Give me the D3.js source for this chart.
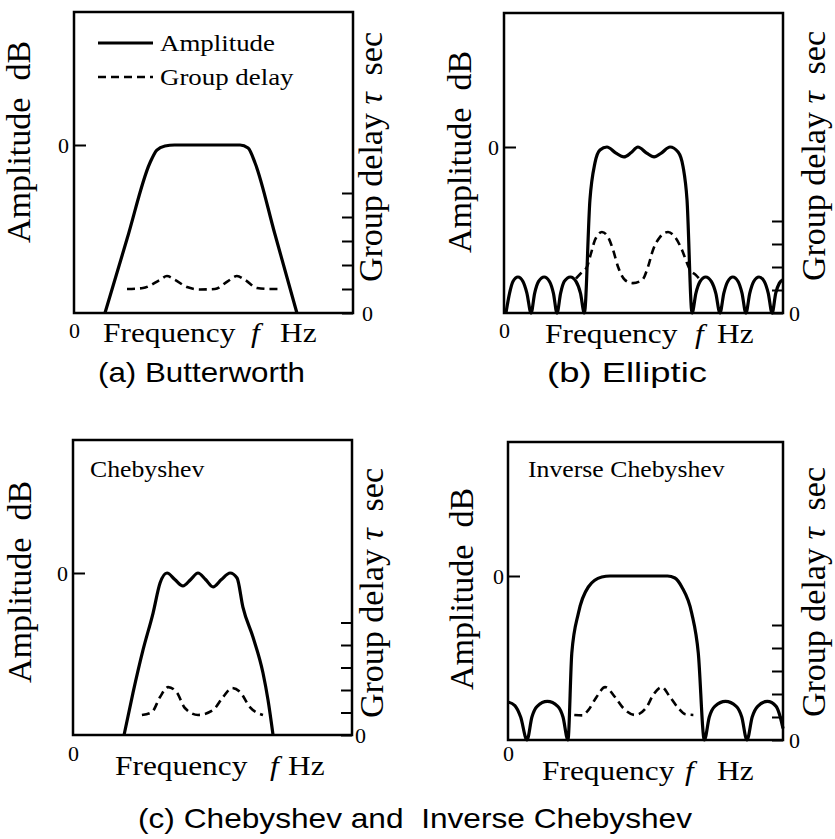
<!DOCTYPE html>
<html>
<head>
<meta charset="utf-8">
<script src="https://cdn.jsdelivr.net/npm/d3@7"></script>
<style>
  body { margin: 0; background: #fff; }
</style>
</head>
<body>
<svg id="chart" width="835" height="839"></svg>
<script>
// frequency axis in % of span, amplitude in % below 0 dB, group delay in tick units
const legendLabels = ['Amplitude', 'Group delay'];
const insetLabels = ['Chebyshev', 'Inverse Chebyshev'];
const captions = ['(a) Butterworth', '(b) Elliptic', '(c) Chebyshev and  Inverse Chebyshev'];
const ampTicks = [0];
const freqTicks = [0];

const butterAmp = [[11.1,-100],[19,-56],[27.2,-10.7],[29.7,-3],[32.6,-0.6],[36,0],[59.5,0],[62.4,-1.8],
  [64.9,-10.7],[72,-53],[79.9,-100]];
const butterDelay = [[19,1],[24.7,1.04],[30.8,1.38],[33.3,1.54],[36.2,1.38],[40.5,1.08],[45.2,0.98],
  [50.5,1],[55.2,1.33],[58.4,1.54],[61.3,1.38],[65.6,1.04],[70.3,1],[74.6,1]];

const ellipAmp = [[0.7,-100],[2,-88],[3.2,-81],[5,-78.3],[6.8,-81],[8.2,-88],[9.7,-100],
  [11,-88],[12.4,-81],[14.4,-78.3],[16.3,-81],[17.7,-88],[19,-100],
  [20.3,-88],[21.6,-81],[23.8,-78.3],[25.8,-81],[27.4,-88],[28.8,-100],
  [30.8,-31.9],[32.6,-9.6],[34.4,-1.8],[36.9,0],[40,-3.5],[43,-6],[45.5,-3.5],[48,0],[51,-3.5],
  [53.8,-6],[56.5,-3.5],[59.5,0],[62.4,-3],[64.2,-12],[65.6,-31.9],[67.4,-100],
  [68.8,-88],[70.3,-81],[72.3,-78.3],[74.3,-81],[75.9,-88],[77.4,-100],
  [78.8,-88],[80.2,-81],[82,-78.3],[83.9,-81],[85.3,-88],[86.7,-100],
  [88.1,-88],[89.5,-81],[91.4,-78.3],[93.3,-81],[94.7,-88],[96.1,-100],
  [97.4,-88],[98.7,-82],[100,-80]];
const ellipDelay = [[25.8,1.5],[28,1.78],[29.7,2],[31.2,2.6],[32.6,3.17],[35.1,3.52],[37.3,3.3],[39.1,2.74],
  [40.9,2],[43.4,1.43],[46.2,1.3],[49.5,1.43],[51.6,2],[53.4,2.74],[55.9,3.3],[58.8,3.52],[61.3,3.3],
  [63.8,2.74],[65.6,2.17],[66.7,1.87],[68.8,1.65],[70.6,1.4]];

const chebAmp = [[18.3,-100],[21.5,-74],[25.1,-47.5],[28.7,-24.7],[31.2,-6.2],[33.7,0],[36.5,-4],[39.4,-8],
  [42.2,-4],[44.8,0],[47.5,-4],[50.2,-8.6],[53.2,-4],[56.3,0],[58.8,-3.1],[60.9,-21],[64.5,-39.5],
  [68.1,-61.7],[69.9,-78.4],[71.7,-100]];
const chebDelay = [[24.7,0.89],[28.3,1.02],[31.2,1.69],[34.1,2.13],[37.3,1.87],[40.1,1.2],[44.8,0.89],
  [50.2,1.11],[53.8,1.69],[57,2.09],[59.9,1.91],[63.4,1.24],[68.1,0.89]];

const invAmp = [[0,-76.8],[2.5,-79],[4.6,-86],[6.9,-100],[8.7,-86],[10.6,-79.5],[14.3,-76.5],[18.1,-79.5],
  [20,-86],[21.8,-100],[23.2,-47],[25.6,-22.6],[29.2,-6.7],[34.1,-0.6],[37.1,0],[58,0],[60.7,-1.2],
  [63.2,-6.7],[66.8,-22.6],[69.2,-47],[71.4,-100],[73.2,-86],[75.2,-79.5],[79.1,-76.5],[83,-79.5],
  [85,-86],[86.9,-100],[88.8,-86],[90.8,-79.5],[94.3,-76.5],[97.5,-79.5],[99,-86],[100,-93]];
const invDelay = [[24.1,1.09],[27,1.07],[29.2,1.3],[32.2,1.87],[35.3,2.3],[38.9,1.87],[41.9,1.39],[46.2,1.09],
  [50.4,1.43],[52.8,1.96],[55.9,2.3],[58.9,1.87],[61.9,1.39],[64.5,1.12],[67.4,1.09]];

const SERIF = "'Liberation Serif', 'Times New Roman', serif";
const SANS = "'Liberation Sans', Arial, sans-serif";
const SX = 1.12;   // the scan is a little wider than tall

const svg = d3.select('#chart');

// text stretched horizontally like the scanned figure
function label(str, x, y, size, opts = {}) {
  const rot = opts.rotate ? ' rotate(-90)' : ' scale(' + SX + ',1)';
  return svg.append('text')
    .attr('transform', 'translate(' + x + ',' + y + ')' + rot)
    .attr('font-family', opts.family || SERIF)
    .attr('font-size', size)
    .attr('font-style', opts.italic ? 'italic' : null)
    .attr('text-anchor', opts.anchor || 'start')
    .attr('fill', '#000')
    .text(str);
}

// ampLab / delLab: [baseline x, centre y] of the rotated titles
const panels = [
  { amp: butterAmp, delay: butterDelay, box: [74, 12, 353, 313], zeroY: 145, unit: 24, nTicks: 5,
    ampLab: [30, 142], delLab: [382, 157], freq: [103, 251, 280, 342],
    lpad: 5, bpad: 9, rpad: 9 },
  { amp: ellipAmp, delay: ellipDelay, box: [504, 13, 783, 313], zeroY: 147, unit: 23, nTicks: 4,
    ampLab: [471, 152], delLab: [825, 156], freq: [545, 695, 717, 343],
    lpad: 5, bpad: 9, rpad: 6 },
  { amp: chebAmp, delay: chebDelay, box: [73, 440, 352, 735], zeroY: 573, unit: 22.5, nTicks: 5,
    ampLab: [31, 582], delLab: [383, 593], freq: [115, 270, 288, 775],
    lpad: 5, bpad: 10, rpad: 3 },
  { amp: invAmp, delay: invDelay, box: [508, 442, 783, 740], zeroY: 576, unit: 23, nTicks: 5,
    ampLab: [473, 589], delLab: [825, 592], freq: [542, 685, 717, 780],
    lpad: 4, bpad: 5, rpad: 6 }
];

function styleAxis(a) {
  a.select('.domain').remove();
  a.attr('font-family', SERIF).attr('font-size', 22);
  a.selectAll('line').attr('stroke', '#000').attr('stroke-width', 2);
}

panels.forEach(function(p) {
  const [x0, y0, x1, y1] = p.box;
  const x = d3.scaleLinear().domain([0, 100]).range([x0, x1]);
  const yAmp = d3.scaleLinear().domain([-100, 0]).range([y1, p.zeroY]);
  const yDel = d3.scaleLinear().domain([0, 1]).range([y1, y1 - p.unit]);

  // left: 0 dB tick, bottom: 0 Hz, right: group delay ticks
  svg.append('g').attr('transform', 'translate(' + x0 + ',0)')
    .call(d3.axisLeft(yAmp).tickValues(ampTicks).tickSizeInner(-12).tickSizeOuter(0).tickPadding(p.lpad))
    .call(styleAxis);
  svg.append('g').attr('transform', 'translate(0,' + y1 + ')')
    .call(d3.axisBottom(x).tickValues(freqTicks).tickSize(0).tickPadding(p.bpad))
    .call(styleAxis);
  svg.append('g').attr('transform', 'translate(' + x1 + ',0)')
    .call(d3.axisRight(yDel).tickValues(d3.range(p.nTicks + 1)).tickSizeInner(-11).tickSizeOuter(0)
      .tickPadding(p.rpad).tickFormat(d => d === 0 ? '0' : ''))
    .call(styleAxis);

  svg.append('rect')
    .attr('x', x0).attr('y', y0).attr('width', x1 - x0).attr('height', y1 - y0)
    .attr('fill', 'none').attr('stroke', '#000').attr('stroke-width', 2.5);

  const ampLine = d3.line().x(d => x(d[0])).y(d => yAmp(d[1])).curve(d3.curveMonotoneX);
  const delLine = d3.line().x(d => x(d[0])).y(d => yDel(d[1])).curve(d3.curveMonotoneX);

  svg.append('path').datum(p.delay)
    .attr('fill', 'none').attr('stroke', '#000').attr('stroke-width', 2.6)
    .attr('stroke-dasharray', '8,5').attr('d', delLine);
  svg.append('path').datum(p.amp)
    .attr('fill', 'none').attr('stroke', '#000').attr('stroke-width', 3.2)
    .attr('stroke-linejoin', 'round').attr('d', ampLine);

  label('Amplitude\u00a0\u00a0dB', p.ampLab[0], p.ampLab[1], 34, { rotate: true, anchor: 'middle' });
  const dl = label('Group delay ', p.delLab[0], p.delLab[1], 34, { rotate: true, anchor: 'middle' });
  dl.append('tspan').attr('font-style', 'italic').text('\u03c4');
  dl.append('tspan').text('\u00a0\u00a0sec');

  label('Frequency', p.freq[0], p.freq[3], 28);
  label('f', p.freq[1], p.freq[3], 28, { italic: true });
  label('Hz', p.freq[2], p.freq[3], 28);
});

// legend of panel (a)
svg.append('line').attr('x1', 98).attr('x2', 153).attr('y1', 43).attr('y2', 43)
  .attr('stroke', '#000').attr('stroke-width', 3);
svg.append('line').attr('x1', 98).attr('x2', 153).attr('y1', 77).attr('y2', 77)
  .attr('stroke', '#000').attr('stroke-width', 2.6).attr('stroke-dasharray', '8,5');
label(legendLabels[0], 160, 51, 24);
label(legendLabels[1], 160, 85, 24);

label(insetLabels[0], 90, 477, 23);
label(insetLabels[1], 528, 477, 23);

// captions
svg.append('text').attr('x', 98).attr('y', 382).attr('font-family', SANS).attr('font-size', 28)
  .attr('textLength', 207).attr('lengthAdjust', 'spacingAndGlyphs').text(captions[0]);
svg.append('text').attr('x', 547).attr('y', 382).attr('font-family', SANS).attr('font-size', 28)
  .attr('textLength', 160).attr('lengthAdjust', 'spacingAndGlyphs').text(captions[1]);
svg.append('text').attr('x', 138).attr('y', 828).attr('font-family', SANS).attr('font-size', 28)
  .attr('textLength', 554).attr('lengthAdjust', 'spacingAndGlyphs').attr('xml:space', 'preserve')
  .text(captions[2].replace('  ', '\u00a0 '));
</script>
</body>
</html>
